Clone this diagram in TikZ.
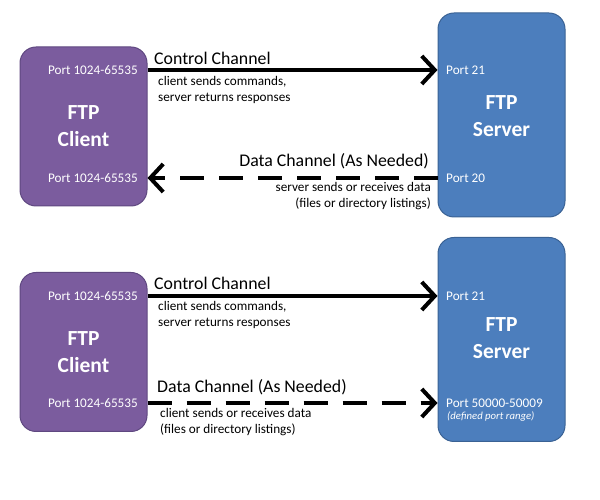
\documentclass[tikz,border=0pt]{standalone}
\usepackage{fontspec}
\setmainfont{Carlito}
\usepackage{xcolor}
\usetikzlibrary{arrows.meta,positioning,calc}

\definecolor{clientfill}{HTML}{7B5C9E}
\definecolor{clientline}{HTML}{5F4880}
\definecolor{serverfill}{HTML}{4C7EBD}
\definecolor{serverline}{HTML}{3A6294}

\begin{document}
\begin{tikzpicture}[x=1pt,y=1pt,
    every node/.style={inner sep=0pt},
    box/.style={rounded corners=16pt,line width=1pt,minimum width=127pt},
    client/.style={box,fill=clientfill,draw=clientline,minimum height=159pt},
    server/.style={box,fill=serverfill,draw=serverline,minimum height=204pt},
    title/.style={text=white,font=\bfseries\fontsize{21.5}{27}\selectfont,align=center},
    port/.style={text=white,font=\fontsize{13.2}{14}\selectfont},
    chan/.style={font=\fontsize{17.8}{19}\selectfont},
    note/.style={font=\fontsize{13.2}{16}\selectfont},
    link/.style={line width=4pt,-{Straight Barb[length=13pt,width=28pt]}},
    datalink/.style={link,dash pattern=on 24pt off 15pt}]
    \useasboundingbox (0,0) rectangle (600,500);

    % active mode
    \node[client] (cli1) at (83.5,373.5) {};
    \node[server] (srv1) at (501.5,385) {};
    \node[title]  at (cli1) {FTP\\Client};
    \node[title]  at ($(srv1)+(0,-1)$) {FTP\\Server};
    \node[port,anchor=east] (pc1a) at (138,430) {Port 1024-65535};
    \node[port,anchor=east] (pc1b) at (138,322) {Port 1024-65535};
    \node[port,anchor=west] (ps1a) at (446,430) {Port 21};
    \node[port,anchor=west] (ps1b) at (446,322) {Port 20};

    \draw[link]     (cli1.east |- pc1a) -- (srv1.west |- ps1a);
    \draw[datalink] (srv1.west |- ps1b) -- (cli1.east |- pc1b);

    \node[chan,anchor=base west] at (154,435) {Control Channel};
    \node[note,anchor=north west,align=left] at (158,424)
      {client sends commands,\\server returns responses};
    \node[chan,anchor=base east] at (429,333) {Data Channel (As Needed)};
    \node[note,anchor=north east,align=right] at (431,318)
      {server sends or receives data\\(files or directory listings)};

    % passive mode
    \node[client] (cli2) at (83.5,148) {};
    \node[server] (srv2) at (501.5,160.5) {};
    \node[title]  at (cli2) {FTP\\Client};
    \node[title]  at ($(srv2)+(0,1)$) {FTP\\Server};
    \node[port,anchor=east] (pc2a) at (138,204) {Port 1024-65535};
    \node[port,anchor=east] (pc2b) at (138,97) {Port 1024-65535};
    \node[port,anchor=west] (ps2a) at (446,204) {Port 21};
    \node[port,anchor=west] (ps2b) at (446,97) {Port 50000-50009};
    \node[port,anchor=north west,font=\itshape\fontsize{10.7}{12}\selectfont]
      at ($(ps2b.south west)+(1,-4)$) {(defined port range)};

    \draw[link]     (cli2.east |- pc2a) -- (srv2.west |- ps2a);
    \draw[datalink] (cli2.east |- pc2b) -- (srv2.west |- ps2b);

    \node[chan,anchor=base west] at (154,210) {Control Channel};
    \node[note,anchor=north west,align=left] at (158,199)
      {client sends commands,\\server returns responses};
    \node[chan,anchor=base west] at (157,107) {Data Channel (As Needed)};
    \node[note,anchor=north west,align=left] at (160,92)
      {client sends or receives data\\(files or directory listings)};
\end{tikzpicture}
\end{document}
